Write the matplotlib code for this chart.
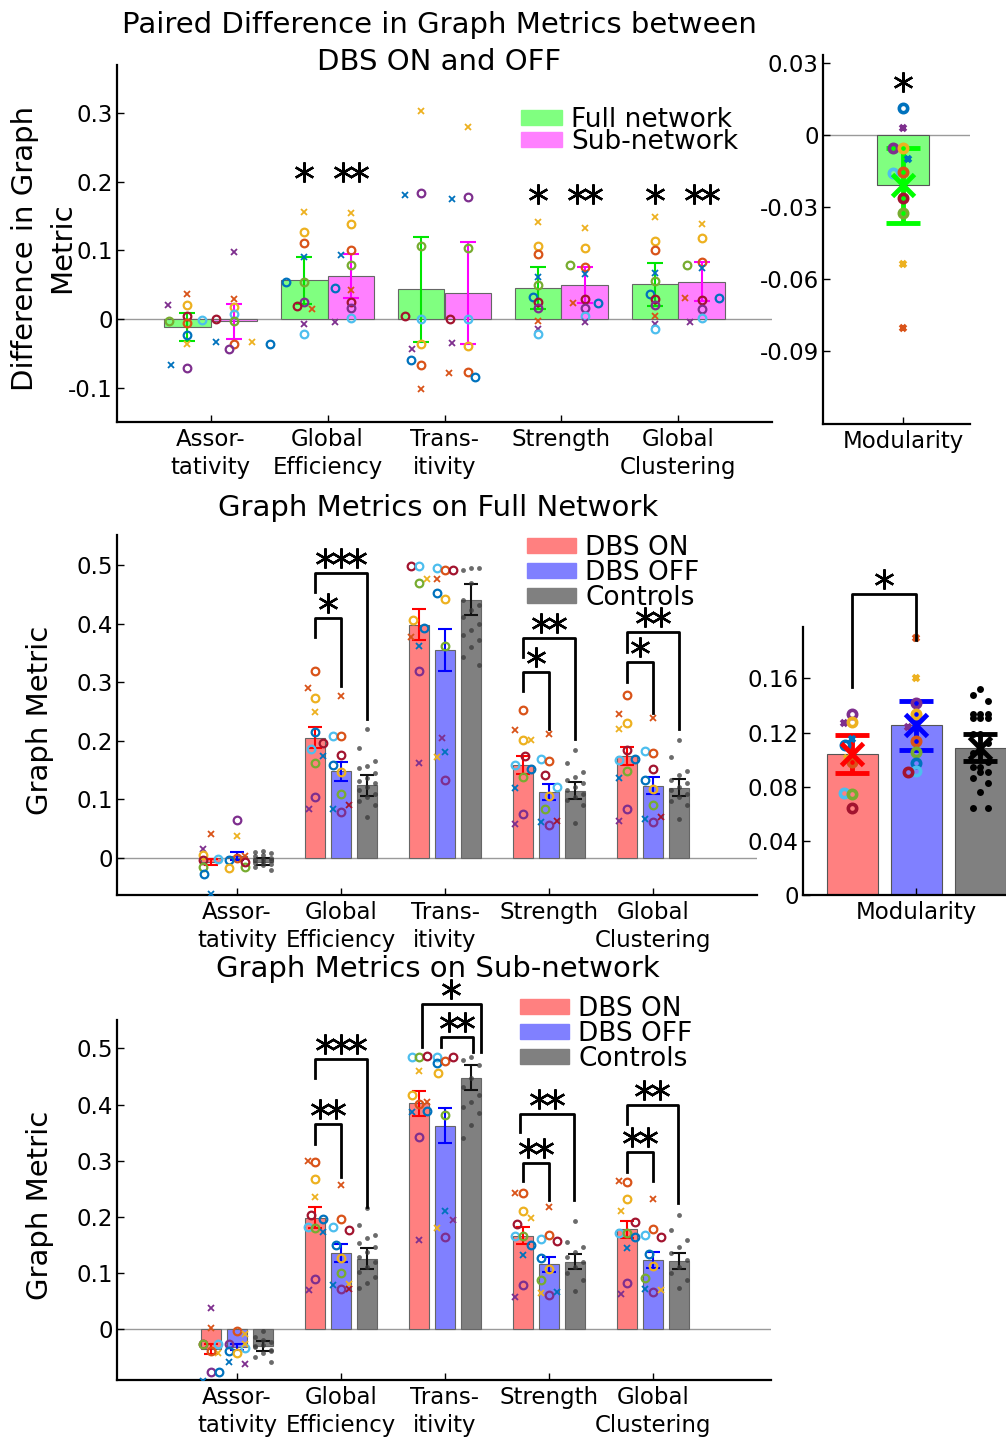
import matplotlib
matplotlib.use("Agg")
import matplotlib.pyplot as plt
import matplotlib.transforms as mtransforms
from matplotlib.patches import Patch

plt.rcParams['font.family'] = 'DejaVu Sans'
plt.rcParams['axes.unicode_minus'] = False

# subject colours (MATLAB default colour order)
PAL = {'b': '#0072BD', 'r': '#D95319', 'y': '#EDB120', 'p': '#7E2F8E',
       'g': '#77AC30', 'c': '#4DBEEE', 'd': '#A2142F'}

metrics = ['Assor-\ntativity', 'Global\nEfficiency', 'Trans-\nitivity', 'Strength', 'Global\nClustering']

# ---------------- paired difference (ON - OFF) ----------------
diff_full_mean = [-0.0115, 0.0565, 0.043, 0.0447, 0.0505]
diff_full_sem = [0.0207, 0.034, 0.077, 0.0308, 0.031]
diff_sub_mean = [-0.0036, 0.063, 0.038, 0.0495, 0.0545]
diff_sub_sem = [0.0248, 0.0317, 0.074, 0.026, 0.0284]
diff_stars_full = [0, 1, 0, 1, 1]
diff_stars_sub = [0, 2, 0, 2, 2]
diff_star_y = [0, 0.2136, 0, 0.1818, 0.1818]

# (value, colour, marker, jitter)
diff_full_pts = [
    [(0.020, 'p', 'x', -0.16), (0.037, 'r', 'x', 0), (0.0197, 'y', 'o', 0), (-0.003, 'g', 'o', -0.155),
     (0.004, 'd', 'o', 0), (-0.006, 'r', 'o', 0), (-0.0226, 'b', 'o', 0), (-0.037, 'y', 'x', 0),
     (-0.0668, 'b', 'x', -0.14), (-0.0707, 'p', 'o', 0), (-0.001, 'c', 'o', 0.13), (0.0, 'd', 'o', 0.245)],
    [(0.156, 'y', 'x', 0), (0.127, 'y', 'o', 0), (0.110, 'r', 'o', 0), (0.091, 'b', 'x', 0),
     (0.054, 'b', 'o', -0.158), (0.054, 'g', 'o', 0), (0.025, 'p', 'o', 0), (0.019, 'd', 'o', -0.064),
     (0.014, 'r', 'x', 0.07), (-0.007, 'p', 'x', 0), (-0.022, 'c', 'o', 0)],
    [(0.303, 'y', 'x', 0), (0.18, 'b', 'x', -0.14), (0.184, 'p', 'o', 0), (0.107, 'g', 'o', 0),
     (0.005, 'd', 'o', -0.14), (0.0, 'c', 'o', 0), (-0.036, 'y', 'o', 0), (-0.044, 'p', 'x', -0.075),
     (-0.0596, 'b', 'o', -0.086), (-0.0668, 'r', 'o', 0), (-0.1016, 'r', 'x', 0)],
    [(0.142, 'y', 'x', 0), (0.106, 'y', 'o', 0), (0.095, 'r', 'o', 0), (0.061, 'b', 'x', 0),
     (0.050, 'g', 'o', 0), (0.032, 'b', 'o', -0.04), (0.025, 'd', 'o', 0), (0.016, 'p', 'o', 0),
     (-0.003, 'r', 'x', 0), (-0.014, 'p', 'x', 0), (-0.0216, 'c', 'o', 0)],
    [(0.148, 'y', 'x', 0), (0.113, 'y', 'o', 0), (0.100, 'r', 'o', 0), (0.067, 'b', 'x', 0),
     (0.056, 'g', 'o', 0), (0.037, 'b', 'o', -0.04), (0.029, 'd', 'o', 0), (0.020, 'p', 'o', 0),
     (0.004, 'r', 'x', 0), (-0.007, 'p', 'x', 0), (-0.015, 'c', 'o', 0)],
]
diff_sub_pts = [
    [(0.098, 'p', 'x', 0), (0.029, 'r', 'x', 0), (0.017, 'y', 'o', 0), (0.0067, 'c', 'o', 0),
     (-0.003, 'g', 'o', 0), (-0.034, 'b', 'x', -0.15), (-0.0365, 'r', 'o', 0), (-0.044, 'p', 'o', -0.043),
     (-0.034, 'y', 'x', 0.154), (-0.036, 'b', 'o', 0.305)],
    [(0.154, 'y', 'x', 0), (0.139, 'y', 'o', 0), (0.100, 'r', 'o', 0), (0.093, 'b', 'x', -0.086),
     (0.079, 'g', 'o', 0), (0.045, 'b', 'o', -0.136), (0.042, 'r', 'x', 0), (0.025, 'd', 'o', 0),
     (0.016, 'p', 'o', 0), (0.001, 'c', 'o', 0), (-0.004, 'p', 'x', -0.136)],
    [(0.279, 'y', 'x', 0), (0.175, 'b', 'x', -0.14), (0.178, 'p', 'o', 0), (0.104, 'g', 'o', 0),
     (0.0, 'd', 'o', -0.154), (0.0, 'c', 'o', 0), (-0.0356, 'p', 'x', -0.133), (-0.0394, 'y', 'o', 0),
     (-0.0788, 'r', 'x', -0.158), (-0.0765, 'r', 'o', 0), (-0.084, 'b', 'o', 0.057)],
    [(0.133, 'y', 'x', 0), (0.103, 'y', 'o', 0), (0.079, 'g', 'o', -0.13), (0.076, 'r', 'o', 0),
     (0.065, 'b', 'x', 0), (0.029, 'd', 'o', 0), (0.023, 'r', 'x', -0.1), (0.0235, 'b', 'o', 0.11),
     (0.016, 'p', 'o', 0), (0.005, 'c', 'o', 0), (-0.0048, 'p', 'x', 0)],
    [(0.139, 'y', 'x', 0), (0.118, 'y', 'o', 0), (0.078, 'g', 'o', -0.13), (0.083, 'r', 'o', 0),
     (0.074, 'b', 'x', 0), (0.030, 'r', 'x', -0.147), (0.027, 'd', 'o', 0), (0.031, 'b', 'o', 0.147),
     (0.015, 'p', 'o', 0), (0.002, 'c', 'o', 0), (-0.0048, 'p', 'x', -0.1)],
]

mod_diff_mean = -0.021
mod_diff_sem = 0.0157
mod_diff_pts = [(0.0114, 'b', 'o', 0), (0.0028, 'p', 'x', 0), (-0.0053, 'p', 'o', -0.116),
                (-0.0053, 'y', 'o', 0), (-0.0101, 'b', 'x', 0.058), (-0.0157, 'c', 'o', -0.116),
                (-0.0154, 'r', 'o', 0), (-0.0264, 'd', 'o', 0), (-0.0324, 'g', 'o', 0),
                (-0.0537, 'y', 'x', 0), (-0.0805, 'r', 'x', 0)]

# ---------------- full network ----------------
full_on_mean = [-0.007, 0.205, 0.3985, 0.159, 0.1745]
full_on_sem = [0.005, 0.018, 0.0265, 0.015, 0.0158]
full_off_mean = [0.003, 0.148, 0.355, 0.1126, 0.123]
full_off_sem = [0.007, 0.016, 0.035, 0.013, 0.0145]
full_ctrl_mean = [-0.006, 0.124, 0.441, 0.1145, 0.1203]
full_ctrl_sem = [0.0055, 0.018, 0.0267, 0.0145, 0.014]

full_on_pts = [
    [(0.0148, 'p', 'x', -0.081), (0.041, 'r', 'x', 0), (0.005, 'y', 'o', -0.081), (-0.003, 'd', 'o', -0.081),
     (-0.016, 'g', 'o', -0.081), (-0.028, 'b', 'o', -0.065), (-0.002, 'c', 'o', 0.07), (-0.062, 'b', 'x', 0)],
    [(0.3185, 'r', 'o', 0), (0.2907, 'r', 'x', -0.07), (0.2736, 'y', 'o', 0), (0.249, 'y', 'x', 0),
     (0.2145, 'b', 'o', 0), (0.1854, 'c', 'o', -0.036), (0.197, 'd', 'o', 0.077), (0.175, 'b', 'x', 0.077),
     (0.163, 'g', 'o', 0), (0.1047, 'p', 'o', 0), (0.083, 'p', 'x', -0.053)],
    [(0.498, 'd', 'o', -0.077), (0.498, 'c', 'o', 0), (0.476, 'y', 'x', 0.08), (0.470, 'g', 'o', 0),
     (0.407, 'y', 'o', -0.057), (0.392, 'b', 'o', 0.045), (0.3766, 'r', 'x', -0.077), (0.362, 'b', 'x', 0),
     (0.3185, 'p', 'o', 0), (0.1615, 'p', 'x', 0)],
    [(0.2526, 'r', 'o', 0), (0.219, 'r', 'x', -0.073), (0.2014, 'y', 'o', 0), (0.2014, 'y', 'x', 0.077),
     (0.174, 'd', 'o', 0.02), (0.158, 'c', 'o', -0.073), (0.152, 'b', 'o', 0.077), (0.138, 'g', 'o', 0),
     (0.119, 'b', 'x', -0.073), (0.076, 'p', 'o', 0), (0.0586, 'p', 'x', -0.073)],
    [(0.279, 'r', 'o', 0), (0.245, 'r', 'x', -0.077), (0.2298, 'y', 'o', 0), (0.2196, 'y', 'x', -0.077),
     (0.1837, 'd', 'o', 0), (0.167, 'c', 'o', -0.077), (0.1695, 'b', 'o', 0.073), (0.148, 'g', 'o', 0),
     (0.136, 'b', 'x', -0.077), (0.084, 'p', 'o', 0), (0.064, 'p', 'x', -0.077)],
]
full_off_pts = [
    [(0.065, 'p', 'o', 0), (0.037, 'y', 'x', 0), (0.0, 'r', 'o', 0), (-0.003, 'b', 'o', -0.081),
     (0.003, 'r', 'x', 0.073), (-0.0165, 'y', 'o', -0.081), (-0.015, 'g', 'o', 0.073), (-0.007, 'd', 'o', 0.073)],
    [(0.276, 'r', 'x', 0), (0.2076, 'c', 'o', -0.077), (0.2076, 'r', 'o', 0), (0.176, 'd', 'o', 0),
     (0.158, 'b', 'o', -0.077), (0.146, 'y', 'o', 0), (0.110, 'g', 'o', 0), (0.084, 'b', 'x', -0.077),
     (0.0785, 'p', 'o', 0), (0.090, 'd', 'x', 0.077)],
    [(0.4955, 'c', 'o', -0.077), (0.492, 'r', 'o', 0), (0.492, 'd', 'o', 0.073), (0.4755, 'r', 'x', -0.077),
     (0.4517, 'b', 'o', -0.077), (0.4414, 'y', 'o', 0), (0.3623, 'g', 'o', 0), (0.2048, 'p', 'x', -0.028),
     (0.1815, 'b', 'x', 0), (0.173, 'y', 'x', -0.077), (0.134, 'p', 'o', 0)],
    [(0.2116, 'r', 'x', 0), (0.1695, 'c', 'o', -0.073), (0.165, 'r', 'o', 0), (0.1416, 'd', 'o', -0.04),
     (0.121, 'c', 'o', 0.073), (0.106, 'y', 'o', 0), (0.084, 'g', 'o', -0.04), (0.0614, 'b', 'x', -0.073),
     (0.0563, 'p', 'o', 0), (0.0637, 'd', 'x', 0.073)],
    [(0.239, 'r', 'x', 0), (0.183, 'c', 'o', -0.077), (0.1786, 'r', 'o', 0), (0.1524, 'd', 'o', 0),
     (0.133, 'b', 'o', -0.077), (0.117, 'y', 'o', 0), (0.0904, 'g', 'o', 0), (0.067, 'b', 'x', -0.077),
     (0.062, 'p', 'o', 0), (0.070, 'd', 'x', 0.077)],
]
full_ctrl_pts = [
    [0.012, 0.01, 0.008, 0.005, 0.003, 0.0, -0.002, -0.003, -0.004, -0.006, -0.008, -0.01, -0.012, -0.015, -0.02],
    [0.2207, 0.187, 0.1656, 0.157, 0.153, 0.1445, 0.136, 0.132, 0.1274, 0.1217, 0.116, 0.110, 0.1047, 0.0978, 0.0904, 0.0694],
    [0.4955, 0.4915, 0.4955, 0.4687, 0.440, 0.4317, 0.423, 0.4118, 0.400, 0.389, 0.3805, 0.372, 0.3606, 0.3436, 0.329],
    [0.184, 0.1615, 0.147, 0.139, 0.133, 0.1274, 0.1217, 0.116, 0.110, 0.1047, 0.099, 0.0904, 0.0603],
    [0.2014, 0.173, 0.149, 0.1416, 0.134, 0.1274, 0.1217, 0.116, 0.110, 0.1047, 0.0978, 0.0904, 0.067],
]
# (x left, x right, top, left end, right end, n stars)
full_brackets = [(1.75, 2.0, 0.409, 0.3766, 0.2935, 1), (1.75, 2.25, 0.4858, 0.4534, 0.238, 3),
                 (3.75, 4.0, 0.318, 0.2844, 0.2196, 1), (3.75, 4.25, 0.3754, 0.3424, 0.2025, 2),
                 (4.75, 5.0, 0.335, 0.301, 0.248, 1), (4.75, 5.25, 0.385, 0.352, 0.2196, 2)]

mod_mean = [0.1039, 0.1253, 0.1088]
mod_sem = [0.014, 0.018, 0.010]
mod_on_pts = [(0.1268, 'p', 'x', -0.13), (0.134, 'p', 'o', 0), (0.1275, 'y', 'o', 0), (0.115, 'b', 'x', 0),
              (0.111, 'b', 'o', -0.12), (0.1014, 'y', 'x', -0.08), (0.098, 'r', 'o', 0),
              (0.0756, 'c', 'o', -0.13), (0.0746, 'g', 'o', 0), (0.0645, 'd', 'o', 0)]
mod_off_pts = [(0.1896, 'r', 'x', 0), (0.1605, 'y', 'x', 0), (0.1415, 'p', 'o', 0), (0.1334, 'y', 'o', 0),
               (0.1243, 'p', 'x', -0.13), (0.114, 'r', 'o', 0), (0.1058, 'g', 'o', 0), (0.0977, 'b', 'o', 0),
               (0.0916, 'c', 'o', 0), (0.091, 'd', 'o', -0.13)]
mod_ctrl_pts = [0.1521, 0.148, 0.1435, 0.134, 0.134, 0.134, 0.1305, 0.1305, 0.1305, 0.119, 0.119, 0.112,
                0.105, 0.105, 0.0985, 0.0948, 0.0948, 0.091, 0.091, 0.0867, 0.0825, 0.0763, 0.0645, 0.0645]
mod_bracket = (1, 2, 0.2227, 0.1534, 0.1884, 1)

# ---------------- sub-network ----------------
sub_on_mean = [-0.036, 0.1985, 0.402, 0.166, 0.178]
sub_on_sem = [0.009, 0.0185, 0.0223, 0.015, 0.015]
sub_off_mean = [-0.032, 0.135, 0.3625, 0.115, 0.1224]
sub_off_sem = [0.006, 0.016, 0.0315, 0.014, 0.0143]
sub_ctrl_mean = [-0.030, 0.1254, 0.448, 0.12, 0.1218]
sub_ctrl_sem = [0.009, 0.019, 0.0223, 0.0137, 0.0142]

sub_on_pts = [
    [(0.037, 'p', 'x', 0), (0.001, 'r', 'x', 0), (-0.0267, 'd', 'o', -0.081), (-0.0267, 'g', 'o', -0.081),
     (-0.0267, 'c', 'o', 0.069), (-0.0434, 'y', 'x', 0.069), (-0.0386, 'r', 'o', 0), (-0.0766, 'p', 'o', 0),
     (-0.0766, 'b', 'o', 0.081), (-0.0927, 'b', 'x', -0.081)],
    [(0.2995, 'r', 'x', -0.07), (0.2983, 'r', 'o', 0), (0.2668, 'y', 'o', 0), (0.2353, 'y', 'x', 0),
     (0.2026, 'd', 'o', -0.036), (0.1955, 'b', 'o', 0.077), (0.1824, 'c', 'o', -0.07), (0.1794, 'g', 'o', 0),
     (0.1735, 'b', 'x', 0.077), (0.0891, 'p', 'o', 0), (0.069, 'p', 'x', -0.053)],
    [(0.4848, 'c', 'o', -0.069), (0.4848, 'g', 'o', 0), (0.486, 'd', 'o', 0.08), (0.46, 'y', 'x', 0),
     (0.417, 'y', 'o', -0.069), (0.404, 'r', 'x', 0.08), (0.401, 'r', 'o', 0), (0.3868, 'b', 'x', -0.069),
     (0.389, 'b', 'o', 0.08), (0.343, 'p', 'o', 0), (0.1586, 'p', 'x', 0)],
    [(0.2418, 'r', 'x', -0.073), (0.2418, 'r', 'o', 0), (0.2103, 'y', 'o', 0), (0.1985, 'y', 'x', 0.077),
     (0.187, 'd', 'o', -0.057), (0.1658, 'c', 'o', -0.073), (0.1658, 'g', 'o', 0), (0.1497, 'b', 'o', 0.077),
     (0.1313, 'b', 'x', 0), (0.0778, 'p', 'o', 0), (0.0576, 'p', 'x', -0.073)],
    [(0.2644, 'r', 'x', -0.077), (0.2614, 'r', 'o', 0), (0.2311, 'y', 'o', 0), (0.2103, 'y', 'x', -0.053),
     (0.1913, 'd', 'o', 0.073), (0.1705, 'c', 'o', -0.077), (0.1705, 'g', 'o', 0), (0.1646, 'b', 'o', 0.073),
     (0.145, 'b', 'x', 0), (0.0826, 'p', 'o', 0), (0.0618, 'p', 'x', -0.053)],
]
sub_off_pts = [
    [(-0.003, 'r', 'o', 0), (-0.0267, 'p', 'o', -0.081), (-0.033, 'c', 'o', 0.073), (-0.009, 'y', 'x', 0.073),
     (-0.0267, 'y', 'x', 0.073), (-0.039, 'b', 'o', -0.081), (-0.043, 'y', 'o', 0), (-0.0588, 'b', 'x', -0.081),
     (-0.0624, 'p', 'x', 0.073)],
    [(0.2573, 'r', 'x', 0), (0.196, 'r', 'o', 0), (0.1824, 'c', 'o', -0.077), (0.1765, 'd', 'o', 0.073),
     (0.1497, 'b', 'o', -0.045), (0.1272, 'y', 'o', 0), (0.0992, 'g', 'o', 0), (0.079, 'b', 'x', -0.077),
     (0.0713, 'p', 'o', 0), (0.0796, 'y', 'x', 0.073), (0.0713, 'd', 'x', 0.073)],
    [(0.4848, 'c', 'o', -0.077), (0.4736, 'b', 'o', -0.077), (0.4777, 'r', 'o', 0), (0.4854, 'd', 'o', 0.073),
     (0.4557, 'y', 'o', -0.069), (0.3809, 'g', 'o', 0), (0.211, 'b', 'x', 0), (0.1943, 'p', 'x', 0.073),
     (0.1794, 'y', 'x', -0.077), (0.164, 'p', 'o', 0)],
    [(0.2175, 'r', 'x', 0), (0.161, 'c', 'o', -0.073), (0.167, 'r', 'o', 0), (0.1575, 'd', 'o', 0.073),
     (0.126, 'b', 'o', -0.073), (0.1064, 'y', 'o', 0), (0.0873, 'g', 'o', -0.073), (0.0636, 'y', 'x', -0.073),
     (0.0606, 'p', 'o', 0), (0.0654, 'b', 'x', 0.073)],
    [(0.2323, 'r', 'x', 0), (0.1788, 'r', 'o', 0), (0.1676, 'c', 'o', -0.077), (0.164, 'd', 'o', 0.077),
     (0.133, 'b', 'o', -0.036), (0.1123, 'y', 'o', 0), (0.0915, 'g', 'o', -0.077), (0.0707, 'b', 'x', -0.077),
     (0.0654, 'p', 'o', 0), (0.0695, 'y', 'x', 0.077)],
]
sub_ctrl_pts = [
    [-0.003, -0.0149, -0.0226, -0.0285, -0.0315, -0.0374, -0.0434, -0.0493, -0.058, -0.02, -0.03, -0.04],
    [0.216, 0.185, 0.1676, 0.1616, 0.1527, 0.1468, 0.1378, 0.129, 0.12, 0.111, 0.102, 0.0933, 0.0814, 0.0725],
    [0.4854, 0.4795, 0.4706, 0.4468, 0.432, 0.417, 0.405, 0.396, 0.3844, 0.3636, 0.34],
    [0.193, 0.1557, 0.1468, 0.1378, 0.129, 0.12, 0.111, 0.099, 0.0873, 0.0677],
    [0.203, 0.1765, 0.1586, 0.1468, 0.135, 0.123, 0.111, 0.099, 0.0873, 0.0725],
]
sub_brackets = [(1.75, 2.0, 0.3648, 0.3298, 0.2703, 2), (1.75, 2.25, 0.4819, 0.448, 0.218, 3),
                (2.964, 3.266, 0.52, 0.503, 0.494, 2), (2.778, 3.347, 0.579, 0.503, 0.494, 1),
                (3.75, 4.0, 0.2965, 0.2638, 0.23, 2), (3.726, 4.24, 0.3826, 0.3518, 0.23, 2),
                (4.75, 5.0, 0.315, 0.279, 0.2638, 2), (4.75, 5.24, 0.40, 0.3654, 0.2252, 2)]

# ------------------------------------------------------------
W, H = 1006, 1437
fig = plt.figure(figsize=(W / 100, H / 100), dpi=100)


def box(l, t, r, b):
    return [l / W, 1 - b / H, (r - l) / W, (b - t) / H]


def style(ax, yticks, ylabels):
    for s in ['top', 'right']:
        ax.spines[s].set_visible(False)
    for s in ['left', 'bottom']:
        ax.spines[s].set_linewidth(1.6)
    ax.set_yticks(yticks)
    ax.set_yticklabels(ylabels)
    ax.tick_params(direction='in', length=5, width=1, labelsize=16.5, pad=3)
    ax.tick_params(axis='x', pad=4)
    for t in ax.get_xticklabels():
        t.set_linespacing(1.33)


def subjects(ax, x0, pts, big=False):
    for v, c, m, dx in pts:
        if big:
            ms, mew = (6, 2.6) if m == 'o' else (5, 2.6)
        else:
            ms, mew = (5.5, 1.6) if m == 'o' else (4.5, 1.3)
        ax.plot(x0 + dx, v, ls='none', marker=m, ms=ms, mfc='none', mec=PAL[c], mew=mew, zorder=5)


def controls(ax, x0, vals, spread, ms=3.5, color='#3a3a3a', alpha=0.75):
    offs = [0, -spread, spread]
    for i, v in enumerate(vals):
        ax.plot(x0 + offs[i % 3], v, ls='none', marker='o', ms=ms, color=color, alpha=alpha, mew=0, zorder=4)


def stars(ax, x, y, n, dy=0):
    for i in range(n):
        tr = mtransforms.offset_copy(ax.transData, fig=fig, x=(i - (n - 1) / 2) * 16, y=dy, units='dots')
        ax.plot(x, y, marker=(6, 2, 0), ms=14.5, mew=1.7, color='k', transform=tr, clip_on=False, zorder=6)


def bracket(ax, xl, xr, top, le, re, n):
    ax.plot([xl, xl, xr, xr], [le, top, top, re], color='k', lw=2, clip_on=False, zorder=6)
    stars(ax, (xl + xr) / 2, top, n, dy=15)


# ---- panel 1: paired difference ----
ax1 = fig.add_axes(box(117, 65, 772, 422))
ax1.axhline(0, color='#9a9a9a', lw=1, zorder=0.5)
for i in range(5):
    g = i + 1
    ax1.bar(g - 0.2, diff_full_mean[i], 0.4, color='#80FF80', edgecolor='#666666', lw=0.8, zorder=1)
    ax1.bar(g + 0.2, diff_sub_mean[i], 0.4, color='#FF80FF', edgecolor='#666666', lw=0.8, zorder=1)
    ax1.errorbar(g - 0.2, diff_full_mean[i], yerr=diff_full_sem[i], color='#00E600', lw=1.5,
                 capsize=6, capthick=1.5, zorder=3)
    ax1.errorbar(g + 0.2, diff_sub_mean[i], yerr=diff_sub_sem[i], color='#FF00FF', lw=1.5,
                 capsize=6, capthick=1.5, zorder=3)
    subjects(ax1, g - 0.2, diff_full_pts[i])
    subjects(ax1, g + 0.2, diff_sub_pts[i])
    if diff_stars_full[i]:
        stars(ax1, g - 0.2, diff_star_y[i], diff_stars_full[i])
        stars(ax1, g + 0.2, diff_star_y[i], diff_stars_sub[i])
ax1.set_xlim(0.2, 5.8)
ax1.set_ylim(-0.15, 0.37)
ax1.set_xticks(range(1, 6))
ax1.set_xticklabels(metrics)
style(ax1, [-0.1, 0, 0.1, 0.2, 0.3], ['-0.1', '0', '0.1', '0.2', '0.3'])
ax1.legend(handles=[Patch(color='#80FF80'), Patch(color='#FF80FF')],
           labels=['Full network', 'Sub-network'], loc='upper left',
           bbox_to_anchor=(521 / W, 1 - 107 / H), bbox_transform=fig.transFigure,
           frameon=False, fontsize=19, handlelength=1.55, handleheight=0.5,
           handletextpad=0.35, labelspacing=-0.15, borderpad=0, borderaxespad=0)

# ---- panel 2: modularity difference ----
ax2 = fig.add_axes(box(823, 55, 970, 424))
ax2.axhline(0, color='#9a9a9a', lw=1, zorder=0.5)
ax2.bar(1, mod_diff_mean, 0.6, color='#80FF80', edgecolor='#555555', lw=0.8, zorder=1)
ax2.errorbar(1, mod_diff_mean, yerr=mod_diff_sem, color='#00FF00', lw=3.5, capsize=12,
             capthick=3.5, zorder=3)
subjects(ax2, 1, mod_diff_pts, big=True)
ax2.plot(1, mod_diff_mean, marker='x', ms=16, mew=3.5, color='#00FF00', zorder=6)
stars(ax2, 1, 0.0222, 1)
ax2.set_xlim(0.07, 1.78)
ax2.set_ylim(-0.1204, 0.0333)
ax2.set_xticks([1])
ax2.set_xticklabels(['Modularity'])
style(ax2, [-0.09, -0.06, -0.03, 0, 0.03], ['-0.09', '-0.06', '-0.03', '0', '0.03'])

fig.text(439 / W, 1 - 25 / H, 'Paired Difference in Graph Metrics between', ha='center', va='center', fontsize=21)
fig.text(439 / W, 1 - 62 / H, 'DBS ON and OFF', ha='center', va='center', fontsize=21)
fig.text(25 / W, 1 - 248 / H, 'Difference in Graph', ha='center', va='center', rotation=90, fontsize=21)
fig.text(62 / W, 1 - 248 / H, 'Metric', ha='center', va='center', rotation=90, fontsize=21)


# ---- panels 3 and 5: group comparison ----
def group_panel(ax, on_m, on_s, off_m, off_s, ct_m, ct_s, on_p, off_p, ct_p, brs):
    ax.axhline(0, color='#9a9a9a', lw=1, zorder=0.5)
    for i in range(5):
        g = i + 1
        for x, m, s, fc, ec in [(g - 0.25, on_m[i], on_s[i], '#FF8080', '#FF0000'),
                                (g, off_m[i], off_s[i], '#8080FF', '#0000FF'),
                                (g + 0.25, ct_m[i], ct_s[i], '#808080', '#111111')]:
            ax.bar(x, m, 0.2, color=fc, edgecolor='#666666', lw=0.8, zorder=1)
            ax.errorbar(x, m, yerr=s, color=ec, lw=1.5, capsize=5, capthick=1.5, zorder=3)
        subjects(ax, g - 0.25, on_p[i])
        subjects(ax, g, off_p[i])
        controls(ax, g + 0.25, ct_p[i], 0.075)
    for b in brs:
        bracket(ax, *b)
    ax.set_xticks(range(1, 6))
    ax.set_xticklabels(metrics)
    style(ax, [0, 0.1, 0.2, 0.3, 0.4, 0.5], ['0', '0.1', '0.2', '0.3', '0.4', '0.5'])


grp_handles = [Patch(color='#FF8080'), Patch(color='#8080FF'), Patch(color='#808080')]
grp_labels = ['DBS ON', 'DBS OFF', 'Controls']

ax3 = fig.add_axes(box(117, 535, 757, 895))
group_panel(ax3, full_on_mean, full_on_sem, full_off_mean, full_off_sem, full_ctrl_mean, full_ctrl_sem,
            full_on_pts, full_off_pts, full_ctrl_pts, full_brackets)
ax3.set_xlim(-0.154, 6.0)
ax3.set_ylim(-0.063, 0.5512)
ax3.legend(handles=grp_handles, labels=grp_labels, loc='upper left',
           bbox_to_anchor=(527 / W, 1 - 535 / H), bbox_transform=fig.transFigure,
           frameon=False, fontsize=19, handlelength=1.85, handleheight=0.5,
           handletextpad=0.35, labelspacing=-0.04, borderpad=0, borderaxespad=0)
fig.text(438 / W, 1 - 508 / H, 'Graph Metrics on Full Network', ha='center', va='center', fontsize=21)
fig.text(40 / W, 1 - 720 / H, 'Graph Metric', ha='center', va='center', rotation=90, fontsize=21)

ax5 = fig.add_axes(box(117, 1020, 771, 1380))
group_panel(ax5, sub_on_mean, sub_on_sem, sub_off_mean, sub_off_sem, sub_ctrl_mean, sub_ctrl_sem,
            sub_on_pts, sub_off_pts, sub_ctrl_pts, sub_brackets)
ax5.set_xlim(-0.154, 6.135)
ax5.set_ylim(-0.0909, 0.5508)
ax5.legend(handles=grp_handles, labels=grp_labels, loc='upper left',
           bbox_to_anchor=(520 / W, 1 - 996 / H), bbox_transform=fig.transFigure,
           frameon=False, fontsize=19, handlelength=1.85, handleheight=0.5,
           handletextpad=0.35, labelspacing=-0.04, borderpad=0, borderaxespad=0)
fig.text(438 / W, 1 - 969 / H, 'Graph Metrics on Sub-network', ha='center', va='center', fontsize=21)
fig.text(40 / W, 1 - 1205 / H, 'Graph Metric', ha='center', va='center', rotation=90, fontsize=21)

# ---- panel 4: modularity ----
ax4 = fig.add_axes(box(803, 627, 1006, 895))
for x, m, s, fc, ec in [(1, mod_mean[0], mod_sem[0], '#FF8080', '#FF0000'),
                        (2, mod_mean[1], mod_sem[1], '#8080FF', '#0000FF'),
                        (3, mod_mean[2], mod_sem[2], '#808080', '#000000')]:
    ax4.bar(x, m, 0.8, color=fc, edgecolor='#555555', lw=0.8, zorder=1)
    ax4.errorbar(x, m, yerr=s, color=ec, lw=3.5, capsize=12, capthick=3.5, zorder=3)
subjects(ax4, 1, mod_on_pts, big=True)
subjects(ax4, 2, mod_off_pts, big=True)
controls(ax4, 3, mod_ctrl_pts, 0.115, ms=5, color='#000000', alpha=1)
for x, m, ec in [(1, mod_mean[0], '#FF0000'), (2, mod_mean[1], '#0000FF'), (3, mod_mean[2], '#000000')]:
    ax4.plot(x, m, marker='x', ms=16, mew=3.5, color=ec, zorder=6)
bracket(ax4, *mod_bracket)
ax4.set_xlim(0.23, 3.4)
ax4.set_ylim(0, 0.198)
ax4.set_xticks([2])
ax4.set_xticklabels(['Modularity'])
style(ax4, [0, 0.04, 0.08, 0.12, 0.16], ['0', '0.04', '0.08', '0.12', '0.16'])

fig.savefig('out.png', dpi=100)
